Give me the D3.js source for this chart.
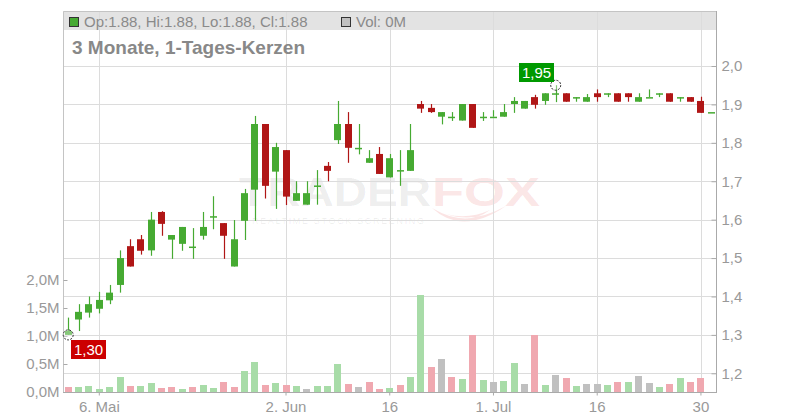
<!DOCTYPE html>
<html><head><meta charset="utf-8">
<script src="https://cdn.jsdelivr.net/npm/d3@7"></script>
<style>body{margin:0;background:#fff}svg{display:block;font-family:"Liberation Sans",Arial,sans-serif}</style>
</head><body><svg id="c" width="800" height="420"></svg>
<script>
const dates = ["2025-04-30","2025-05-02","2025-05-05","2025-05-06","2025-05-07","2025-05-08","2025-05-09","2025-05-12","2025-05-13","2025-05-14","2025-05-15","2025-05-16","2025-05-19","2025-05-20","2025-05-21","2025-05-22","2025-05-23","2025-05-26","2025-05-27","2025-05-28","2025-05-30","2025-06-02","2025-06-03","2025-06-04","2025-06-05","2025-06-06","2025-06-09","2025-06-10","2025-06-11","2025-06-12","2025-06-13","2025-06-16","2025-06-17","2025-06-18","2025-06-20","2025-06-23","2025-06-24","2025-06-25","2025-06-26","2025-06-27","2025-06-30","2025-07-01","2025-07-02","2025-07-03","2025-07-04","2025-07-07","2025-07-08","2025-07-09","2025-07-11","2025-07-14","2025-07-15","2025-07-16","2025-07-17","2025-07-18","2025-07-21","2025-07-22","2025-07-23","2025-07-24","2025-07-25","2025-07-28","2025-07-29","2025-07-30","2025-07-31"];
const open  = [1.30,1.34,1.358,1.368,1.39,1.43,1.531,1.549,1.52,1.62,1.548,1.537,1.53,1.558,1.609,1.591,1.478,1.597,1.678,1.849,1.725,1.781,1.649,1.639,1.689,1.74,1.807,1.849,1.787,1.748,1.771,1.71,1.729,1.727,1.901,1.891,1.868,1.868,1.858,1.901,1.868,1.868,1.868,1.901,1.889,1.919,1.909,1.929,1.929,1.919,1.907,1.929,1.929,1.929,1.929,1.907,1.919,1.929,1.929,1.919,1.919,1.909,1.88];
const high  = [1.345,1.38,1.40,1.412,1.43,1.52,1.549,1.56,1.62,1.622,1.56,1.581,1.578,1.62,1.661,1.591,1.599,1.68,1.87,1.849,1.80,1.781,1.70,1.70,1.729,1.75,1.909,1.88,1.849,1.781,1.789,1.771,1.781,1.849,1.909,1.901,1.88,1.88,1.901,1.901,1.88,1.885,1.901,1.919,1.909,1.925,1.929,1.95,1.929,1.919,1.927,1.939,1.929,1.929,1.929,1.929,1.939,1.929,1.929,1.919,1.919,1.92,1.88];
const low   = [1.30,1.31,1.345,1.356,1.38,1.41,1.478,1.509,1.506,1.558,1.498,1.519,1.498,1.548,1.575,1.498,1.478,1.547,1.597,1.655,1.628,1.638,1.649,1.639,1.639,1.70,1.797,1.748,1.77,1.748,1.719,1.71,1.688,1.727,1.878,1.878,1.848,1.857,1.858,1.839,1.857,1.868,1.868,1.878,1.889,1.889,1.899,1.906,1.907,1.907,1.907,1.907,1.919,1.907,1.907,1.907,1.919,1.919,1.907,1.907,1.907,1.878,1.88];
const close = [1.31,1.36,1.38,1.391,1.41,1.50,1.478,1.519,1.60,1.589,1.56,1.581,1.53,1.581,1.609,1.558,1.549,1.669,1.849,1.688,1.789,1.66,1.669,1.669,1.689,1.727,1.849,1.787,1.787,1.76,1.719,1.76,1.729,1.781,1.889,1.88,1.88,1.868,1.901,1.839,1.868,1.868,1.88,1.909,1.909,1.899,1.929,1.929,1.907,1.919,1.919,1.919,1.929,1.907,1.919,1.919,1.919,1.929,1.907,1.919,1.907,1.878,1.88];
const volume = [0.089,0.089,0.107,0.054,0.089,0.268,0.107,0.107,0.161,0.071,0.089,0.054,0.089,0.125,0.071,0.179,0.089,0.375,0.536,0.125,0.161,0.125,0.107,0.054,0.107,0.107,0.50,0.143,0.089,0.179,0.054,0.071,0.125,0.268,1.732,0.446,0.589,0.268,0.232,1.02,0.214,0.179,0.196,0.518,0.143,1.02,0.125,0.304,0.25,0.107,0.143,0.143,0.125,0.179,0.179,0.286,0.161,0.089,0.143,0.25,0.179,0.25,0];
const prevClose = 1.32;
const priceTicks = [1.2,1.3,1.4,1.5,1.6,1.7,1.8,1.9,2.0];
const volTicks = [0,0.5,1.0,1.5,2.0];
const dateTicks = ["2025-05-06","2025-06-02","2025-06-16","2025-07-01","2025-07-16","2025-07-30"];
const dateTickLabels = ["6. Mai","2. Jun","16","1. Jul","16","30"];
const legendText = "Op:1.88, Hi:1.88, Lo:1.88, Cl:1.88";
const volText = "Vol: 0M";
const title = "3 Monate, 1-Tages-Kerzen";

const L = 63, R = 716, T = 11, B = 392;
const svg = d3.select("#c");
const x = d3.scaleBand().domain(dates).range([L, R + 0.5]);
const cx = d => x(d) + x.bandwidth() / 2;
const y = d3.scaleLinear().domain([1.2, 2.0]).range([373.3, 66]);
const yv = d3.scaleLinear().domain([0, 2]).range([B, 280]);
const px = v => Math.round(v) + 0.5;
const comma = f => s => d3.format(f)(s).replace(".", ",");

const GREEN = "#46aa32", RED = "#b01616";
const VG = "#a8dca8", VR = "#f0a8b0", VN = "#c0c0c0";

// top band
svg.append("rect").attr("x", L).attr("y", T).attr("width", R - L).attr("height", 19).attr("fill", "#e3e3e3");

// watermark
const wm = svg.append("g");
wm.append("text").attr("x", 239).attr("y", 206).attr("font-size", 40).attr("font-weight", "bold")
  .attr("fill", "#000").attr("fill-opacity", 0.075).attr("textLength", 192).attr("lengthAdjust", "spacingAndGlyphs").text("TRADER");
wm.append("text").attr("x", 432).attr("y", 206).attr("font-size", 40).attr("font-weight", "bold")
  .attr("fill", "#e04040").attr("fill-opacity", 0.14).attr("textLength", 108).attr("lengthAdjust", "spacingAndGlyphs").text("FOX");
wm.append("text").attr("x", 252).attr("y", 224).attr("font-size", 9)
  .attr("fill", "#000").attr("fill-opacity", 0.08).attr("textLength", 172).attr("lengthAdjust", "spacing").text("REALTIME STOCK SCREENING");
wm.append("path").attr("d", "M432,208 Q462,236 506,206 Q474,224 446,214 Q468,220 490,210 Q466,228 432,208 Z")
  .attr("fill", "#e04040").attr("fill-opacity", 0.14);

// grid
svg.append("g").selectAll("line").data(priceTicks).join("line")
  .attr("x1", L).attr("x2", R).attr("y1", d => px(y(d))).attr("y2", d => px(y(d)))
  .attr("stroke", "#dcdcdc");
svg.append("g").selectAll("line").data(dateTicks).join("line")
  .attr("x1", d => px(cx(d))).attr("x2", d => px(cx(d))).attr("y1", T).attr("y2", B)
  .attr("stroke", "#dcdcdc");

// volume bars
const vcol = i => {
  const p = i === 0 ? prevClose : close[i - 1];
  const d = close[i] - p;
  return Math.abs(d) < 0.0005 ? VN : (d > 0 ? VG : VR);
};
svg.append("g").selectAll("rect").data(dates).join("rect")
  .attr("x", d => Math.round(cx(d) - 3.5)).attr("width", 7)
  .attr("y", (d, i) => Math.round(yv(volume[i]))).attr("height", (d, i) => B - Math.round(yv(volume[i])))
  .attr("fill", (d, i) => vcol(i));

// candles
const cg = svg.append("g");
dates.forEach((d, i) => {
  const up = close[i] >= open[i];
  const col = up ? GREEN : RED;
  const xc = cx(d);
  cg.append("line").attr("x1", px(xc)).attr("x2", px(xc))
    .attr("y1", y(high[i])).attr("y2", y(low[i])).attr("stroke", col).attr("stroke-width", 1.2);
  const top = y(Math.max(open[i], close[i])), bot = y(Math.min(open[i], close[i]));
  const h = Math.max(1.5, bot - top);
  cg.append("rect").attr("x", Math.round(xc - 3.5)).attr("width", 7)
    .attr("y", top).attr("height", h).attr("fill", col);
});

// frame
svg.append("path").attr("d", `M${L+0.5},${T+0.5}H${R+0.5}V${B+0.5}H${L+0.5}Z`).attr("fill", "none").attr("stroke", "#c4c4c4");
svg.append("path").attr("d", `M${R+0.5},${T}V${B+0.5}M${L},${B+0.5}H${R+1}`).attr("fill", "none").attr("stroke", "#aaa");

// axes
const axR = svg.append("g").attr("transform", `translate(${R + 0.5},0)`)
  .call(d3.axisRight(y).tickValues(priceTicks).tickFormat(comma(".1f")).tickSizeInner(-5).tickSizeOuter(0).tickPadding(5));
const axL = svg.append("g").attr("transform", `translate(${L + 0.5},0)`)
  .call(d3.axisLeft(yv).tickValues(volTicks).tickFormat(d => comma(".1f")(d) + "M").tickSizeInner(-4).tickSizeOuter(0).tickPadding(4));
const axB = svg.append("g").attr("transform", `translate(0,${B + 0.5})`)
  .call(d3.axisBottom(x).tickValues(dateTicks).tickFormat((d, i) => dateTickLabels[i]).tickSizeInner(3).tickSizeOuter(0).tickPadding(6));
[axR, axL, axB].forEach(a => {
  a.select(".domain").remove();
  a.selectAll("line").attr("stroke", "#aaa");
  a.selectAll("text").attr("fill", "#999").attr("font-size", 15).attr("font-family", '"Liberation Sans",Arial,sans-serif');
});

// legend
svg.append("rect").attr("x", 69.5).attr("y", 17.5).attr("width", 9).attr("height", 9).attr("fill", GREEN).attr("stroke", "#333");
svg.append("text").attr("x", 84).attr("y", 27).attr("font-size", 15).attr("fill", "#8a8a8a").text(legendText);
svg.append("rect").attr("x", 341.5).attr("y", 17.5).attr("width", 9).attr("height", 9).attr("fill", VN).attr("stroke", "#333");
svg.append("text").attr("x", 356).attr("y", 27).attr("font-size", 15).attr("fill", "#8a8a8a").text(volText);
svg.append("text").attr("x", 72).attr("y", 54).attr("font-size", 19).attr("font-weight", "bold").attr("fill", "#888").text(title);

// min / max markers
const iMin = d3.minIndex(low), iMax = d3.maxIndex(high);
const fmt2 = comma(".2f");
function marker(i, v, bx, by, bg) {
  svg.append("circle").attr("cx", cx(dates[i])).attr("cy", y(v)).attr("r", 5)
    .attr("fill", "#fff").attr("fill-opacity", 0.35).attr("stroke", "#222").attr("stroke-dasharray", "2,1.4");
  svg.append("rect").attr("x", bx).attr("y", by).attr("width", 35).attr("height", 19).attr("fill", bg);
  svg.append("text").attr("x", bx + 17.5).attr("y", by + 15).attr("text-anchor", "middle")
    .attr("font-size", 15).attr("fill", "#fff").text(fmt2(v));
}
marker(iMin, low[iMin], Math.round(cx(dates[iMin]) + 3), Math.round(y(low[iMin]) + 5), "#cc0000");
marker(iMax, high[iMax], Math.round(cx(dates[iMax]) - 37), Math.round(y(high[iMax]) - 22), "#009900");
</script></body></html>
